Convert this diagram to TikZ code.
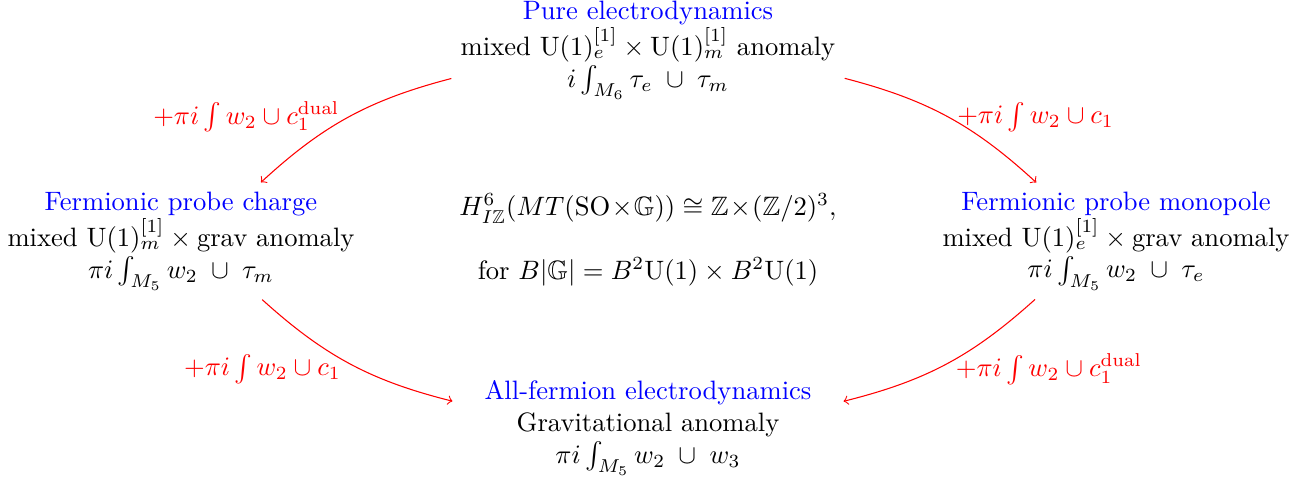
\documentclass[tikz,border=0pt]{standalone}
\usepackage{amsmath}
\usepackage{amssymb}
\usepackage{xcolor}
\usetikzlibrary{arrows,positioning,calc}

\begin{document}
\begin{tikzpicture}[x=0.3759pt,y=-0.3759pt,
    sector/.style={align=center},
    flow/.style={->,red},
    lbl/.style={red}]
\useasboundingbox (0,0) rectangle (1312,480);

% the four theories
\node[sector] (pure) at (648,50) {\textcolor{blue}{Pure electrodynamics}\\
    mixed $\mathrm{U}(1)^{[1]}_e\times\mathrm{U}(1)^{[1]}_m$ anomaly\\
    $i\int_{M_6}\tau_e\;\cup\;\tau_m$};
\node[sector] (charge) at (181,241) {\textcolor{blue}{Fermionic probe charge}\\
    mixed $\mathrm{U}(1)^{[1]}_m\times\text{grav}$ anomaly\\
    $\pi i\int_{M_5}w_2\;\cup\;\tau_m$};
\node[sector] (monopole) at (1116,241) {\textcolor{blue}{Fermionic probe monopole}\\
    mixed $\mathrm{U}(1)^{[1]}_e\times\text{grav}$ anomaly\\
    $\pi i\int_{M_5}w_2\;\cup\;\tau_e$};
\node[sector,minimum width=146.6pt] (allferm) at (648,428) {\textcolor{blue}{All-fermion electrodynamics}\\
    Gravitational anomaly\\
    $\pi i\int_{M_5}w_2\;\cup\;w_3$};

% bordism group in the middle
\node[sector] (iso) at (648,240) {$H^6_{I\mathbb{Z}}(MT(\mathrm{SO}\!\times\!\mathbb{G}))\cong\mathbb{Z}\!\times\!(\mathbb{Z}/2)^3,$\\[12pt]
    for $B|\mathbb{G}|=B^2\mathrm{U}(1)\times B^2\mathrm{U}(1)$};

\draw[flow] (pure) to[bend right=14] node[lbl,midway,left] {$+\pi i\int w_2\cup c_1^{\mathrm{dual}}$} (charge);
\draw[flow] (pure) to[bend left=14] node[lbl,midway,right] {$+\pi i\int w_2\cup c_1$} (monopole);
\draw[flow] (charge) to[bend right=14] node[lbl,midway,left,yshift=-2pt] {$+\pi i\int w_2\cup c_1$} (allferm);
\draw[flow] (monopole) to[bend left=14] node[lbl,midway,right,yshift=-2pt] {$+\pi i\int w_2\cup c_1^{\mathrm{dual}}$} (allferm);
\end{tikzpicture}
\end{document}
